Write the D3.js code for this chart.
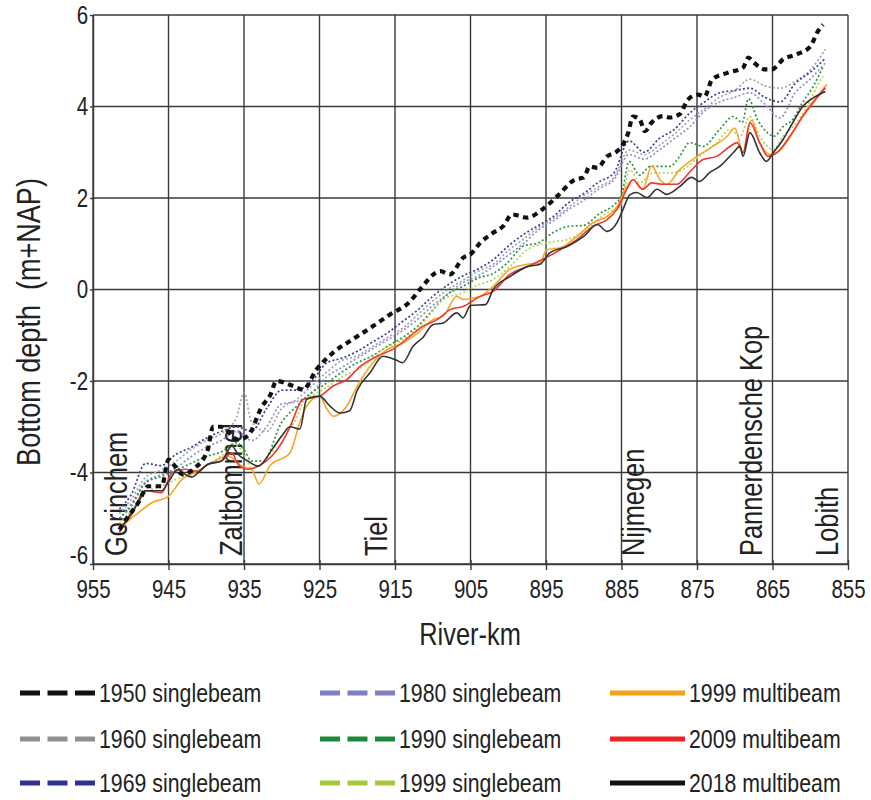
<!DOCTYPE html>
<html><head><meta charset="utf-8">
<script src="https://cdn.jsdelivr.net/npm/d3@7/dist/d3.min.js"></script>
<style>
html,body{margin:0;padding:0;background:#fff;}
svg{display:block;}
</style></head>
<body><svg id="chart" width="871" height="800"></svg>
<script>
// ---------- DATA ----------
const kmTicks = [955, 945, 935, 925, 915, 905, 895, 885, 875, 865, 855];
const depthTicks = [6, 4, 2, 0, -2, -4, -6];
const placeNames = ["Gorinchem", "Zaltbommel", "Tiel", "Nijmegen", "Pannerdensche Kop", "Lobith"];
const placeKm = [950.5, 935.2, 916.1, 882.0, 866.4, 856.3];

const s1950 = [[951.5,-5.25],[950.5,-5.0],[949,-4.66],[947.7,-4.3],[945.9,-4.3],[945,-3.72],[944.1,-3.87],[943.2,-4.04],[941.5,-3.9],[939.8,-3.5],[939.1,-3.0],[938,-3.0],[935.8,-3.28],[934.5,-3.2],[932.6,-2.55],[931.5,-2.3],[930.7,-2.0],[928.5,-2.11],[927.2,-2.19],[925.4,-1.75],[923.2,-1.38],[920.6,-1.09],[917.9,-0.8],[915.7,-0.55],[913,-0.26],[911.7,0.0],[909,0.4],[907.7,0.33],[906,0.69],[905,0.77],[903.7,1.02],[902,1.24],[900.7,1.38],[899.5,1.64],[897.5,1.57],[895.5,1.75],[893.5,2.04],[891.2,2.4],[890,2.45],[889.2,2.69],[888.2,2.66],[886.9,2.91],[885.6,3.02],[884.8,3.17],[884.1,3.43],[883.5,3.78],[882.6,3.72],[881.9,3.46],[881,3.65],[879.5,3.79],[878.6,3.76],[877.3,3.83],[876.2,4.15],[874.9,4.26],[874,4.22],[873,4.59],[870.9,4.74],[868.9,4.85],[868.2,5.07],[867.6,4.98],[866,4.81],[865.1,4.81],[863.6,5.03],[861.8,5.14],[860,5.31],[859,5.64],[858.3,5.79]];

const s1960 = [[951.5,-4.9],[950,-4.6],[948,-4.1],[946,-3.95],[944,-3.75],[942,-3.5],[940,-3.3],[938,-3.15],[936,-2.8],[935,-2.25],[934,-2.9],[932,-3.1],[930,-2.6],[928,-2.4],[926,-2.1],[924,-1.8],[922,-1.55],[920,-1.45],[918,-1.25],[916,-1.05],[914,-0.85],[912,-0.55],[910,-0.25],[908,0.0],[906,0.2],[904,0.4],[902,0.55],[900,0.85],[898,1.1],[896,1.35],[894,1.55],[892,1.8],[890,2.05],[888,2.25],[886,2.45],[884,3.05],[882,2.95],[880,3.15],[878,3.4],[876,3.7],[874,3.95],[872,4.2],[870,4.35],[868,4.6],[866,4.45],[864,4.4],[862,4.55],[860,4.8],[858,5.25]];

const s1969 = [[951.5,-4.8],[950,-4.5],[948,-3.8],[946,-3.85],[944,-3.6],[942,-3.45],[940,-3.25],[938,-3.1],[936,-3.0],[934,-3.1],[932,-2.6],[930,-2.2],[928,-2.2],[926,-2.0],[924,-1.6],[922,-1.5],[920,-1.35],[918,-1.15],[916,-0.95],[914,-0.7],[912,-0.45],[910,-0.15],[908,0.1],[906,0.3],[904,0.45],[902,0.65],[900,0.95],[898,1.2],[896,1.4],[894,1.6],[892,1.9],[890,2.1],[888,2.35],[886,2.55],[884,3.25],[882,3.0],[880,3.3],[878,3.5],[876,3.85],[874,4.1],[872,4.3],[870,4.35],[868,4.4],[866,4.2],[864,4.1],[862,4.5],[860,4.75],[858,5.05]];

const s1980 = [[951.5,-5.0],[950,-4.7],[948,-4.2],[946,-4.05],[944,-3.9],[942,-3.65],[940,-3.45],[938,-3.3],[936,-3.1],[934,-3.3],[932,-3.0],[930,-2.5],[928,-2.45],[926,-2.25],[924,-1.9],[922,-1.7],[920,-1.5],[918,-1.3],[916,-1.1],[914,-0.9],[912,-0.65],[910,-0.35],[908,-0.1],[906,0.15],[904,0.3],[902,0.5],[900,0.75],[898,1.0],[896,1.3],[894,1.5],[892,1.75],[890,1.95],[888,2.2],[886,2.4],[884,2.95],[882,2.85],[880,3.05],[878,3.3],[876,3.55],[874,3.9],[872,4.1],[870,4.2],[868,4.3],[866,4.05],[864,3.75],[862,4.3],[860,4.6],[858,4.95]];

const s1990 = [[951.5,-5.0],[950,-4.75],[948,-4.22],[946,-4.09],[944,-3.95],[942,-3.8],[940,-3.65],[938,-3.55],[936,-3.35],[935,-3.5],[934,-3.75],[932.5,-3.75],[930,-2.9],[928,-2.55],[926,-2.25],[924,-2.04],[922,-1.8],[920,-1.6],[918,-1.45],[916,-1.24],[914,-1.05],[912,-0.8],[910,-0.45],[908,-0.1],[906,0.07],[904,0.25],[902,0.35],[900,0.6],[898,0.95],[896,1.02],[894,1.25],[892,1.38],[890,1.4],[888,1.65],[886,1.85],[885,2.05],[884,2.8],[882.6,2.5],[881.2,2.69],[880,2.69],[878.6,2.69],[877.3,2.91],[876,3.21],[874.2,3.13],[872,3.5],[870.2,3.78],[869,3.65],[868.2,4.17],[867,3.72],[865.7,3.43],[864.8,3.35],[863.6,3.56],[862.3,3.72],[861,4.09],[859.6,4.44],[858.3,4.87]];

const s1999sb = [[951.5,-5.1],[950,-4.85],[948,-4.44],[946,-4.3],[944,-4.15],[942,-4.05],[940,-3.85],[938,-3.64],[936,-3.42],[935,-3.6],[934,-3.9],[932,-3.7],[930,-3.2],[928,-2.8],[927.2,-2.47],[924.5,-2.19],[921.9,-1.9],[919.2,-1.68],[916.6,-1.31],[913.9,-1.09],[911.3,-0.73],[908.6,-0.22],[906,-0.07],[904,0.1],[902,0.22],[899.8,0.5],[897.5,0.87],[894.9,1.02],[892.2,1.09],[889.6,1.31],[886.9,1.68],[885.2,1.81],[883.9,2.62],[882.6,2.33],[880.8,2.55],[878.5,2.55],[876.9,2.62],[874.7,2.91],[872.4,3.21],[870.6,3.5],[869.3,3.35],[868,3.78],[866.7,3.35],[864.9,3.06],[863.6,3.35],[861.8,3.65],[860.4,4.0],[859.1,4.44],[858.3,4.66]];

const s1999mb = [[951.5,-5.3],[950.8,-5.14],[949,-4.88],[947.2,-4.66],[945,-4.52],[943.2,-4.15],[941.5,-4.0],[939.2,-3.78],[937.1,-3.64],[935.3,-3.86],[934,-3.93],[933,-4.25],[931.6,-3.86],[928.9,-3.57],[927.6,-2.9],[926.7,-2.55],[925,-2.33],[924,-2.62],[923.2,-2.77],[921.4,-2.55],[920,-2.11],[918.3,-1.68],[916,-1.31],[913.9,-1.17],[912,-0.95],[910,-0.66],[908.6,-0.58],[906.8,-0.15],[906,-0.22],[903.7,-0.15],[902,0.07],[899.8,0.44],[897.5,0.55],[895.8,0.58],[894.9,0.87],[893.1,0.91],[890.9,1.16],[888.8,1.46],[886.9,1.6],[885.6,1.81],[884.3,2.25],[883.5,2.4],[882.2,2.19],[881,2.7],[879.9,2.4],[879,2.3],[877.3,2.62],[875,2.91],[872.9,3.13],[871,3.35],[870,3.53],[868.9,3.0],[867.8,3.7],[866.7,3.21],[865.3,2.95],[864,3.05],[862.3,3.43],[860.4,3.95],[858.7,4.3],[857.8,4.48]];

const s2009 = [[951.5,-5.2],[950,-4.95],[948.1,-4.4],[945.9,-4.44],[944.5,-4.0],[942.8,-3.93],[941,-3.97],[939.8,-3.82],[938,-3.75],[936.6,-3.57],[935.8,-3.82],[934.5,-3.93],[933.1,-3.86],[931.3,-3.64],[930,-3.35],[928.9,-3.0],[927.2,-2.4],[925,-2.33],[923.2,-2.11],[921.4,-1.97],[919.6,-1.68],[917.4,-1.46],[915.3,-1.31],[913,-1.02],[911.3,-0.8],[909.4,-0.66],[907.7,-0.44],[906,-0.37],[903.7,-0.15],[902,-0.04],[899.8,0.33],[897.5,0.5],[895.4,0.66],[893.1,0.87],[890.9,1.09],[888.8,1.38],[886.9,1.53],[885.6,1.75],[884.3,2.19],[883.5,2.4],[882.2,2.19],[881,2.33],[879.5,2.3],[877.7,2.3],[876,2.56],[874.2,2.84],[872.4,2.91],[870.6,3.13],[869.7,3.21],[868.9,2.99],[868,3.65],[866.7,3.21],[865.6,2.91],[864.4,2.99],[862.7,3.35],[861,3.78],[859.1,4.19],[858,4.41]];

const s2018 = [[951.5,-5.3],[950.8,-5.1],[949,-4.66],[948.1,-4.4],[945.9,-4.4],[945,-4.2],[943.7,-3.93],[942.8,-4.04],[941.9,-4.1],[941,-3.99],[939.8,-3.82],[938,-3.75],[936.6,-3.42],[935.8,-3.6],[934.5,-3.75],[933.1,-3.86],[931.3,-3.5],[930,-3.2],[928.9,-3.0],[927.6,-3.05],[926.7,-2.4],[925,-2.33],[923.6,-2.55],[922.3,-2.7],[921,-2.65],[920,-2.2],[918.3,-1.82],[916.6,-1.46],[915,-1.53],[914,-1.6],[912.6,-1.24],[911.3,-1.05],[910,-0.77],[908.6,-0.73],[906.8,-0.51],[906,-0.62],[905,-0.35],[903,-0.33],[902,0.0],[899.8,0.28],[897.5,0.5],[895.8,0.55],[894.5,0.8],[892.2,0.94],[890,1.16],[888.2,1.42],[886.9,1.27],[885.6,1.46],[884.8,1.75],[883.9,2.07],[883,2.12],[881.6,2.01],[880.3,2.19],[879,2.08],[877.3,2.25],[875.7,2.45],[874.7,2.36],[873.3,2.56],[872,2.69],[870.2,2.99],[869.3,3.13],[868.9,2.91],[868,3.43],[866.7,2.99],[865.8,2.8],[864.9,2.99],[863.6,3.28],[862.3,3.65],[861,4.0],[859.6,4.19],[858,4.33]];

const seriesNames = ["1950 singlebeam","1960 singlebeam","1969 singlebeam","1980 singlebeam","1990 singlebeam","1999 singlebeam","1999 multibeam","2009 multibeam","2018 multibeam"];
const seriesData = [s1950, s1960, s1969, s1980, s1990, s1999sb, s1999mb, s2009, s2018];

// ---------- STYLE ----------
const lineColors = ["#111111","#a3a3a3","#3b3f9c","#8d8ed0","#2f9446","#b4d45a","#f5a623","#ec3a33","#333333"];
const legendColors = ["#111111","#8f8f8f","#2e3192","#7f80bf","#1a8a3a","#a5c93c","#f5a21b","#ec2227","#111111"];
const kinds = ["bigdash","dot","dot","dot","dot","dot","solid","solid","solid"];
const drawOrder = [1,2,3,4,5,6,7,8,0];

(function(){
const pL = 93, pR = 848, pT = 15, pB = 564;
const svg = d3.select("#chart");

function hasFont(name){
  const c = document.createElement("canvas").getContext("2d");
  const s = "abcdefghijklmnopqrstuvwxyz0123456789";
  c.font = "40px monospace"; const a = c.measureText(s).width;
  c.font = `40px "${name}", monospace`; const b = c.measureText(s).width;
  return Math.abs(a-b) > 0.5;
}
const NARROW = hasFont("Liberation Sans Narrow");
const FONT = NARROW ? '"Liberation Sans Narrow", "Arial Narrow", sans-serif' : '"Liberation Sans", Arial, sans-serif';
const SX = NARROW ? 1 : 0.82;

function txt(g, x, y, s, size, anchor, rot){
  return g.append("text")
    .attr("transform", `translate(${x},${y}) rotate(${rot||0}) scale(${SX},1)`)
    .attr("text-anchor", anchor || "start")
    .attr("font-family", FONT)
    .attr("font-size", size)
    .attr("fill", "#222")
    .style("white-space", "pre")
    .text(s);
}

const x = d3.scaleLinear().domain([955, 855]).range([pL, pR]);
const y = d3.scaleLinear().domain([-6, 6]).range([pB, pT]);

const grid = svg.append("g").attr("stroke", "#3a3a3a").attr("stroke-width", 1.4);
grid.selectAll("line.v").data(kmTicks).join("line").attr("class","v")
  .attr("x1", d => x(d)).attr("x2", d => x(d)).attr("y1", pT).attr("y2", pB);
grid.selectAll("line.h").data(depthTicks).join("line").attr("class","h")
  .attr("y1", d => y(d)).attr("y2", d => y(d)).attr("x1", pL).attr("x2", pR);

const xAxis = d3.axisBottom(x).tickValues(kmTicks).tickFormat(d3.format("d")).tickSizeInner(6).tickSizeOuter(0).tickPadding(10);
const gx = svg.append("g").attr("transform", `translate(0,${pB})`).call(xAxis);
gx.select(".domain").attr("stroke", "#3a3a3a").attr("stroke-width", 1.4);
gx.selectAll(".tick line").attr("stroke", "#3a3a3a").attr("stroke-width", 1.4).attr("y1", -4);
gx.selectAll(".tick text").attr("font-family", FONT).attr("font-size", 25).attr("fill", "#222")
  .attr("transform", `scale(${SX},1)`);

const yAxis = d3.axisLeft(y).tickValues(depthTicks).tickFormat(d3.format("d")).tickSizeInner(3).tickSizeOuter(0).tickPadding(3);
const gy = svg.append("g").attr("transform", `translate(${pL},0)`).call(yAxis);
gy.select(".domain").attr("stroke", "#3a3a3a").attr("stroke-width", 1.4);
gy.selectAll(".tick line").attr("stroke", "#3a3a3a").attr("stroke-width", 1.4);
gy.selectAll(".tick text").attr("font-family", FONT).attr("font-size", 25).attr("fill", "#222")
  .text(d => d < 0 ? "-" + Math.abs(d) : d)
  .attr("y", d => d === -6 ? -9 : 0)
  .attr("transform", `scale(${SX},1)`);

txt(svg, 470, 645, "River-km", 31, "middle");
txt(svg, 40, 322, "Bottom depth  (m+NAP)", 33, "middle", -90);

const pl = svg.append("g");
placeNames.forEach((n, i) => txt(pl, x(placeKm[i]), 556, n, 31, "start", -90));

const line = d3.line().x(d => x(d[0])).y(d => y(d[1])).curve(d3.curveMonotoneX);
const lg = svg.append("g").attr("fill", "none");
drawOrder.forEach(i => {
  const p = lg.append("path").datum(seriesData[i]).attr("d", line)
    .attr("stroke", lineColors[i]);
  if (kinds[i] === "bigdash") p.attr("stroke-width", 4.2).attr("stroke-dasharray", "5.5,4.5");
  else if (kinds[i] === "dot") p.attr("stroke-width", 1.7).attr("stroke-dasharray", "2,2.2");
  else p.attr("stroke-width", 1.6);
});

const legX = [20, 320, 610];
const legY = [693, 739, 783];
const leg = svg.append("g");
seriesNames.forEach((n, i) => {
  const col = Math.floor(i / 3), row = i % 3;
  const lx = legX[col], ly = legY[row];
  const l = leg.append("line").attr("x1", lx).attr("x2", lx + 75).attr("y1", ly).attr("y2", ly)
    .attr("stroke", legendColors[i]).attr("stroke-width", 5);
  if (kinds[i] !== "solid") l.attr("stroke-dasharray", "20,7.5");
  txt(leg, lx + 79, ly + 9, n, 26, "start");
});
})();
</script>
</body></html>
